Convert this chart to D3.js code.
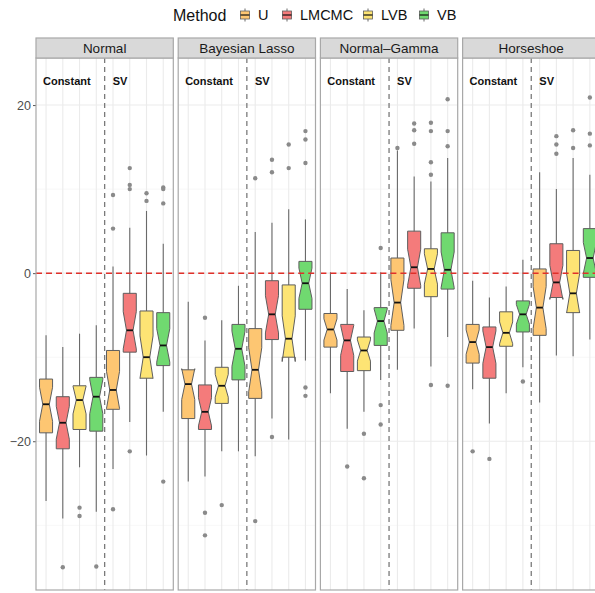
<!DOCTYPE html>
<html>
<head>
<meta charset="utf-8">
<script src="https://cdn.jsdelivr.net/npm/d3@7"></script>
<style>
  body { margin: 0; background: #fff; }
  svg { display: block; font-family: "Liberation Sans", Arial, Helvetica, sans-serif; }
</style>
</head>
<body>
<div id="chart"></div>
<script>
// Facets, methods and volatility regimes
const facets = ["Normal", "Bayesian Lasso", "Normal–Gamma", "Horseshoe"];
const methods = ["U", "LMCMC", "LVB", "VB"];
const regimes = ["Constant", "SV"];
const methodColors = ["#fdc672", "#f47b7b", "#fde474", "#70d970"];
const yTicks = [-20, 0, 20];
const yMinor = [-30, -10, 10];

// Box stats per facet, order U/LMCMC/LVB/VB for Constant then SV
// [lower whisker, q1, median, q3, upper whisker]
const normalStats = [
  [-27.1, -19.0, -15.6, -12.6, -7.4],
  [-29.2, -20.9, -17.8, -14.7, -8.8],
  [-23.1, -18.6, -15.1, -13.4, -7.2],
  [-28.4, -18.8, -14.7, -12.4, -6.2],
  [-23.3, -16.2, -13.9, -9.2, 0.8],
  [-17.7, -9.4, -6.8, -2.4, 5.4],
  [-21.7, -12.5, -10.0, -4.5, 7.4],
  [-16.5, -11.0, -8.6, -4.7, 3.5]
];
const lassoStats = [
  [-24.8, -17.3, -13.2, -11.5, -3.4],
  [-24.2, -18.6, -16.5, -13.3, -8.0],
  [-21.2, -15.5, -13.4, -11.2, -5.6],
  [-21.2, -12.7, -9.0, -6.1, -1.5],
  [-21.8, -14.9, -11.5, -6.6, 4.9],
  [-17.3, -7.9, -4.9, -0.9, 6.0],
  [-19.8, -10.0, -7.8, -1.4, 7.6],
  [-10.4, -4.3, -1.2, 1.4, 6.4]
];
const ngStats = [
  [-14.3, -8.8, -6.7, -4.8, 0.1],
  [-18.5, -11.7, -8.0, -6.1, -1.9],
  [-16.5, -11.6, -9.2, -7.6, -4.4],
  [-12.7, -8.6, -5.7, -4.1, 0.1],
  [-11.5, -6.8, -3.5, 1.8, 14.6],
  [-6.6, -1.8, 0.7, 5.0, 11.5],
  [-11.1, -2.8, 0.5, 2.9, 10.9],
  [-7.6, -1.9, 0.4, 4.8, 13.7]
];
const hsStats = [
  [-13.8, -10.7, -8.2, -6.1, -0.9],
  [-17.9, -12.5, -8.8, -6.4, -2.9],
  [-14.3, -8.7, -7.1, -4.6, -1.6],
  [-11.2, -7.0, -4.9, -3.3, 1.6],
  [-15.4, -7.4, -4.1, 0.5, 12.0],
  [-9.8, -2.9, -1.1, 3.5, 10.0],
  [-9.9, -4.7, -2.4, 2.7, 13.7],
  [-7.9, -0.5, 1.8, 5.3, 11.7]
];

// Outlying points, same order
const normalOutliers = [[], [-35.0], [-27.9, -28.9], [-34.9], [9.3, 5.3, -28.1], [12.5, 10.5, 10.0, -21.2], [9.5, 8.6], [10.2, 10.0, 8.3, -24.8]];
const lassoOutliers = [[], [-5.3, -28.5, -31.2], [-27.6], [], [11.3, -29.5], [13.5, 12.0, -19.5], [15.3, 12.5], [16.9, 15.9, 13.1, -13.6, -14.6]];
const ngOutliers = [[], [-23.0], [-19.1, -24.4], [3.0, -15.7, -18.0], [14.9], [17.8, 17.0, 15.4], [17.9, 16.9, 13.2, 11.7, -13.3], [20.7, 16.9, 15.1, -13.4]];
const hsOutliers = [[-21.2], [-22.1], [], [-12.9], [], [16.3, 15.3, 14.2], [17.0, 14.9], [20.9, 16.6, 15.2]];

const facetStats = [normalStats, lassoStats, ngStats, hsStats];
const facetOutliers = [normalOutliers, lassoOutliers, ngOutliers, hsOutliers];
const nPerBox = 25; // sample size behind the notches

// Layout
const width = 595, height = 593;
const plotTop = 58, plotBottom = 590, stripH = 20;

const svg = d3.select("#chart")
  .append("svg")
  .attr("width", width)
  .attr("height", height);

const y = d3.scaleLinear().domain([-37.7, 25.6]).range([plotBottom, plotTop]);

const fx = d3.scaleBand()
  .domain(facets)
  .range([36, 599.9])
  .paddingInner(0.0345);

const slots = [];
regimes.forEach(r => methods.forEach(m => slots.push(m + "|" + r)));

const x = d3.scalePoint()
  .domain(slots)
  .range([0, fx.bandwidth()])
  .padding(0.6);

const boxW = x.step() * 0.78;

// Y axis
const yAxis = svg.append("g")
  .attr("transform", `translate(${fx(facets[0])},0)`)
  .call(d3.axisLeft(y).tickValues(yTicks).tickSize(3).tickPadding(2));
yAxis.select(".domain").remove();
yAxis.selectAll(".tick line").attr("stroke", "#555");
yAxis.selectAll(".tick text")
  .attr("fill", "#4d4d4d")
  .attr("font-size", 12.5)
  .attr("font-family", "Liberation Sans, Arial, sans-serif");

facets.forEach((facet, fi) => {
  const g = svg.append("g").attr("transform", `translate(${fx(facet)},0)`);
  const pw = fx.bandwidth();

  g.append("rect")
    .attr("x", 0).attr("y", plotTop)
    .attr("width", pw).attr("height", plotBottom - plotTop)
    .attr("fill", "#fff");

  // grid
  g.selectAll(".minor")
    .data(yMinor)
    .enter().append("line")
    .attr("x1", 0).attr("x2", pw)
    .attr("y1", d => y(d)).attr("y2", d => y(d))
    .attr("stroke", "#f3f3f3").attr("stroke-width", 0.7);

  g.selectAll(".major")
    .data(yTicks)
    .enter().append("line")
    .attr("x1", 0).attr("x2", pw)
    .attr("y1", d => y(d)).attr("y2", d => y(d))
    .attr("stroke", "#ebebeb").attr("stroke-width", 1.1);

  g.selectAll(".vgrid")
    .data(slots)
    .enter().append("line")
    .attr("x1", d => x(d)).attr("x2", d => x(d))
    .attr("y1", plotTop).attr("y2", plotBottom)
    .attr("stroke", "#ebebeb").attr("stroke-width", 1.1);

  const stats = facetStats[fi];
  const outs = facetOutliers[fi];

  // whiskers
  g.selectAll(".whisker")
    .data(stats)
    .enter().append("line")
    .attr("x1", (d, i) => x(slots[i])).attr("x2", (d, i) => x(slots[i]))
    .attr("y1", d => y(d[0])).attr("y2", d => y(d[4]))
    .attr("stroke", "#6a6a6a").attr("stroke-width", 1.1);

  // notched boxes
  g.selectAll(".box")
    .data(stats)
    .enter().append("path")
    .attr("d", (d, i) => {
      const cx = x(slots[i]);
      const l = cx - boxW / 2, r = cx + boxW / 2, nw = boxW * 0.25;
      const notch = 1.58 * (d[3] - d[1]) / Math.sqrt(nPerBox);
      const nu = y(d[2] + notch), nl = y(d[2] - notch), m = y(d[2]);
      return `M${l},${y(d[3])}L${r},${y(d[3])}L${r},${nu}L${r - nw},${m}L${r},${nl}` +
        `L${r},${y(d[1])}L${l},${y(d[1])}L${l},${nl}L${l + nw},${m}L${l},${nu}Z`;
    })
    .attr("fill", (d, i) => methodColors[i % 4])
    .attr("stroke", "#5e5e5e")
    .attr("stroke-width", 1);

  // medians
  g.selectAll(".median")
    .data(stats)
    .enter().append("line")
    .attr("x1", (d, i) => x(slots[i]) - boxW / 4)
    .attr("x2", (d, i) => x(slots[i]) + boxW / 4)
    .attr("y1", d => y(d[2])).attr("y2", d => y(d[2]))
    .attr("stroke", "#111").attr("stroke-width", 1.8);

  // outliers
  const pts = [];
  outs.forEach((vals, i) => vals.forEach(v => pts.push({ slot: slots[i], v })));
  g.selectAll(".out")
    .data(pts)
    .enter().append("circle")
    .attr("cx", d => x(d.slot))
    .attr("cy", d => y(d.v))
    .attr("r", 2.2)
    .attr("fill", "#8a8a8a");

  // reference lines
  g.append("line")
    .attr("x1", 0).attr("x2", pw)
    .attr("y1", y(0)).attr("y2", y(0))
    .attr("stroke", "#e0302a").attr("stroke-width", 1.5)
    .attr("stroke-dasharray", "6,4");

  const splitX = (x(slots[3]) + x(slots[4])) / 2;
  g.append("line")
    .attr("x1", splitX).attr("x2", splitX)
    .attr("y1", plotTop).attr("y2", plotBottom)
    .attr("stroke", "#7a7a7a").attr("stroke-width", 1.3)
    .attr("stroke-dasharray", "5,4");

  // regime labels
  const x0 = x(slots[0]);
  g.append("text")
    .attr("x", x0 + 1.24 * x.step())
    .attr("y", y(22.8))
    .attr("dy", "0.35em")
    .attr("text-anchor", "middle")
    .attr("font-size", 11)
    .attr("font-weight", "bold")
    .attr("fill", "#111")
    .text(regimes[0]);
  g.append("text")
    .attr("x", x0 + 4.42 * x.step())
    .attr("y", y(22.8))
    .attr("dy", "0.35em")
    .attr("text-anchor", "middle")
    .attr("font-size", 11)
    .attr("font-weight", "bold")
    .attr("fill", "#111")
    .text(regimes[1]);

  // border and strip
  g.append("rect")
    .attr("x", 0).attr("y", plotTop)
    .attr("width", pw).attr("height", plotBottom - plotTop)
    .attr("fill", "none").attr("stroke", "#a8a8a8").attr("stroke-width", 1.2);

  g.append("rect")
    .attr("x", 0).attr("y", plotTop - stripH)
    .attr("width", pw).attr("height", stripH)
    .attr("fill", "#d9d9d9").attr("stroke", "#a8a8a8").attr("stroke-width", 1.2);

  g.append("text")
    .attr("x", pw / 2)
    .attr("y", plotTop - stripH / 2)
    .attr("dy", "0.36em")
    .attr("text-anchor", "middle")
    .attr("font-size", 13.5)
    .attr("fill", "#1a1a1a")
    .text(facet);
});

// Legend
const legend = svg.append("g").attr("transform", "translate(0,15)");
legend.append("text")
  .attr("x", 173)
  .attr("dy", "0.36em")
  .attr("font-size", 16)
  .attr("fill", "#111")
  .text("Method");

const keyX = [245, 287, 368, 424];
methods.forEach((m, i) => {
  const k = legend.append("g").attr("transform", `translate(${keyX[i]},0)`);
  k.append("line")
    .attr("y1", -6.5).attr("y2", 6.5)
    .attr("stroke", "#6a6a6a").attr("stroke-width", 1);
  k.append("rect")
    .attr("x", -4.5).attr("y", -4)
    .attr("width", 9).attr("height", 8)
    .attr("fill", methodColors[i])
    .attr("stroke", "#5e5e5e").attr("stroke-width", 0.8);
  k.append("line")
    .attr("x1", -4.5).attr("x2", 4.5)
    .attr("stroke", "#111").attr("stroke-width", 1.2);
  legend.append("text")
    .attr("x", keyX[i] + 13)
    .attr("dy", "0.36em")
    .attr("font-size", 14.5)
    .attr("fill", "#111")
    .text(m);
});
</script>
</body>
</html>
